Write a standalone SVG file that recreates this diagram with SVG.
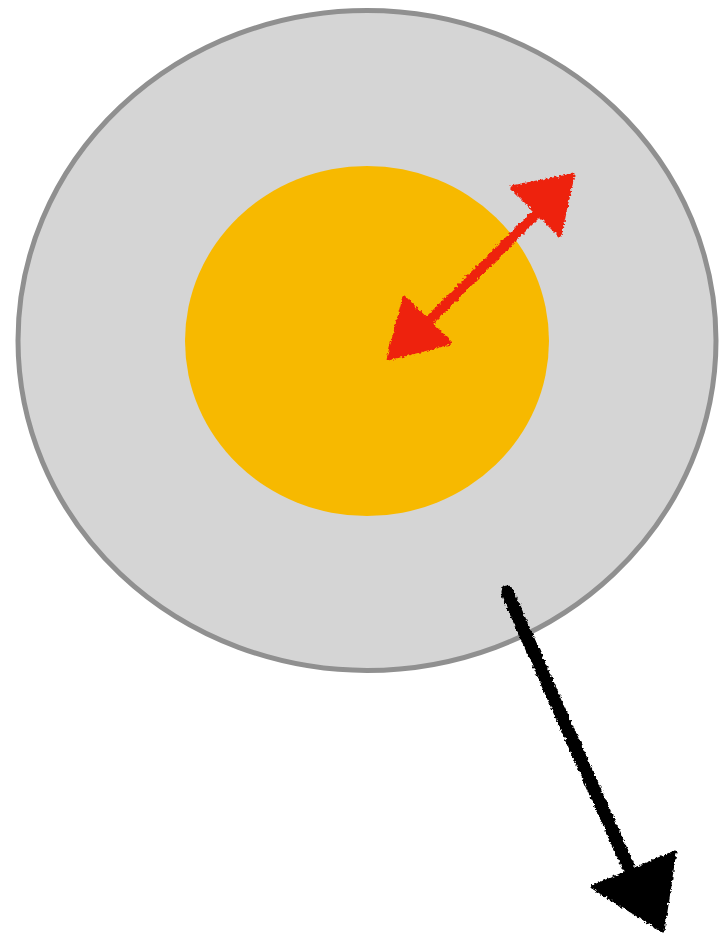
<svg xmlns="http://www.w3.org/2000/svg" width="719" height="941" viewBox="0 0 719 941">
<defs>
<filter id="rough" x="-10%" y="-10%" width="120%" height="120%">
<feTurbulence type="fractalNoise" baseFrequency="0.35" numOctaves="2" seed="3" result="n"/>
<feDisplacementMap in="SourceGraphic" in2="n" scale="5" xChannelSelector="R" yChannelSelector="G"/>
</filter>
</defs>
<style>
.outer{fill:#d5d5d5;stroke:#909090;stroke-width:5}
.inner{fill:#f7b900}
.red{stroke:#ee2211;fill:#ee2211}
.blk{stroke:#000;fill:#000}
.ln{fill:none;stroke-linecap:round}
</style>
<rect width="719" height="941" fill="#fff"/>
<g id="outer-circle"><ellipse class="outer" cx="367" cy="340.5" rx="349" ry="330"/></g>
<g id="inner-circle"><ellipse class="inner" cx="367" cy="341" rx="182" ry="175"/></g>
<g id="connectors" filter="url(#rough)">
<g class="red">
<path class="ln" d="M420 330 L540 210" style="stroke-width:10"/>
<polygon points="388,359 404,297 451,343" stroke-width="3" stroke-linejoin="round"/>
<polygon points="573,175 511,187 560,236" stroke-width="3" stroke-linejoin="round"/>
</g>
<g class="blk">
<path class="ln" d="M507 592 L628 866" style="stroke-width:13"/>
<polygon points="663,931 592,887 675,852" stroke-width="3" stroke-linejoin="round"/>
</g>
</g>
</svg>
